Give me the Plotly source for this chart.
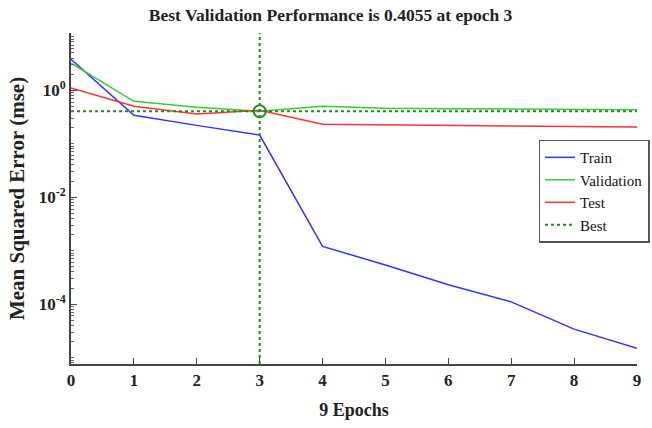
import plotly.graph_objects as go

epochs = [0, 1, 2, 3, 4, 5, 6, 7, 8, 9]
train = [3.8, 0.34, 0.22, 0.145, 1.2e-3, 5.4e-4, 2.3e-4, 1.1e-4, 3.4e-5, 1.5e-5]
validation = [3.2, 0.62, 0.48, 0.4055, 0.5, 0.46, 0.45, 0.44, 0.44, 0.43]
test = [1.1, 0.5, 0.36, 0.42, 0.23, 0.225, 0.22, 0.215, 0.21, 0.205]
best_epoch = 3
best_value = 0.4055
ytick_vals = [1e-4, 1e-2, 1]
ytick_text = ["<b>10<sup>-4</sup></b>", "<b>10<sup>-2</sup></b>", "<b>10<sup>0</sup></b>"]

font_family = "Liberation Serif"
fig = go.Figure()
fig.add_trace(go.Scatter(x=epochs, y=train, mode="lines", name="Train",
                         line=dict(color="#3333ff", width=1.5)))
fig.add_trace(go.Scatter(x=epochs, y=validation, mode="lines", name="Validation",
                         line=dict(color="#33cc33", width=1.5)))
fig.add_trace(go.Scatter(x=epochs, y=test, mode="lines", name="Test",
                         line=dict(color="#ff3333", width=1.5)))
fig.add_trace(go.Scatter(x=[epochs[0], epochs[-1]], y=[best_value, best_value], mode="lines",
                         name="Best", line=dict(color="#228b22", width=2, dash="dot")))
fig.add_trace(go.Scatter(x=[best_epoch], y=[best_value], mode="markers", showlegend=False,
                         marker=dict(symbol="circle-open", size=12, color="#228b22",
                                     line=dict(width=2))))
fig.add_shape(type="line", xref="x", yref="paper", x0=best_epoch, x1=best_epoch, y0=0, y1=1,
              line=dict(color="#228b22", width=2, dash="dot"))

fig.update_layout(
    width=652, height=428,
    margin=dict(l=71, r=15, t=33, b=64, autoexpand=False),
    paper_bgcolor="white", plot_bgcolor="white",
    font=dict(family=font_family, color="#222222", size=15),
    title=dict(text="<b>Best Validation Performance is 0.4055 at epoch 3</b>",
               x=0.507, xanchor="center", y=0.965, yanchor="middle",
               font=dict(size=17.5, family=font_family, color="#222222")),
    legend=dict(x=0.826, y=0.678, xanchor="left", yanchor="top",
                bordercolor="#555555", borderwidth=1.5, bgcolor="white",
                font=dict(size=15, family=font_family, color="#111111"),
                tracegroupgap=0, itemwidth=30),
    showlegend=True,
)
fig.update_xaxes(range=[0, 9], dtick=1, showgrid=False, zeroline=False,
                 showline=True, linecolor="#444444", linewidth=2, automargin=False,
                 ticks="inside", ticklen=6, tickcolor="#444444",
                 tickfont=dict(size=17, family=font_family, color="#222222"),
                 title=dict(text="<b>9 Epochs</b>", standoff=14,
                            font=dict(size=18, family=font_family, color="#222222")),
                 tickprefix="<b>", ticksuffix="</b>")
fig.update_yaxes(type="log", range=[-5.12, 1.07], showgrid=False, zeroline=False,
                 showline=True, linecolor="#444444", linewidth=2, automargin=False,
                 tickvals=ytick_vals, ticktext=ytick_text,
                 ticks="inside", ticklen=6, tickcolor="#444444",
                 minor=dict(ticks="inside", ticklen=3, tickcolor="#666666", showgrid=False,
                            dtick="D1"),
                 tickfont=dict(size=17, family=font_family, color="#222222"),
                 title=dict(text="<b>Mean Squared Error (mse)</b>", standoff=8,
                            font=dict(size=21, family=font_family, color="#222222")))

fig.write_html("out.html")
